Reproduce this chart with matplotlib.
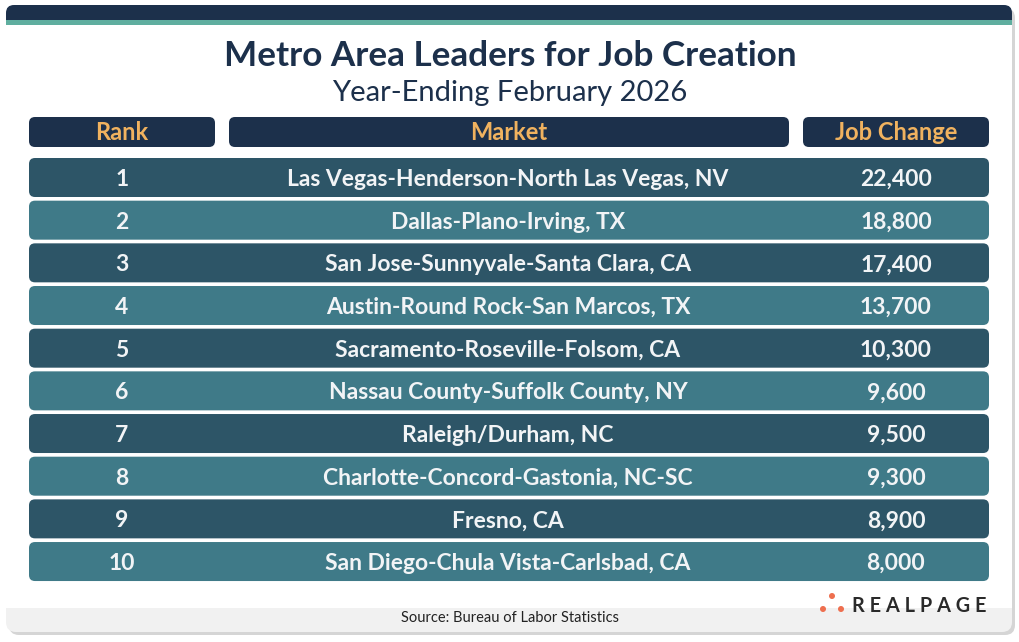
import matplotlib.pyplot as plt
from matplotlib.patches import FancyBboxPatch, Rectangle, Circle

plt.rcParams['font.family'] = ['Lato', 'DejaVu Sans']

ranks = [1, 2, 3, 4, 5, 6, 7, 8, 9, 10]
markets = ["Las Vegas-Henderson-North Las Vegas, NV", "Dallas-Plano-Irving, TX",
           "San Jose-Sunnyvale-Santa Clara, CA", "Austin-Round Rock-San Marcos, TX",
           "Sacramento-Roseville-Folsom, CA", "Nassau County-Suffolk County, NY",
           "Raleigh/Durham, NC", "Charlotte-Concord-Gastonia, NC-SC",
           "Fresno, CA", "San Diego-Chula Vista-Carlsbad, CA"]
job_change = [22400, 18800, 17400, 13700, 10300, 9600, 9500, 9300, 8900, 8000]

W, H = 1020, 642
fig = plt.figure(figsize=(W / 100, H / 100), dpi=100)
ax = fig.add_axes([0, 0, 1, 1])
ax.set_xlim(0, W)
ax.set_ylim(H, 0)
ax.axis('off')

navy = '#1c304b'
dark = '#2d5567'
light = '#3f7a88'
orange = '#f0b25f'

def rbox(x0, y0, x1, y1, color, r=6, z=2):
    ax.add_patch(FancyBboxPatch((x0 + r, y0 + r), x1 - x0 - 2 * r, y1 - y0 - 2 * r,
                                boxstyle=f"round,pad={r}", fc=color, ec='none', zorder=z))

# card with shadow and grey footer
rbox(9, 8, 1015, 635, '#d5d5d5', r=10, z=0)
rbox(6, 5, 1012, 632, '#f1f1f1', r=10, z=1)
ax.add_patch(Rectangle((6, 15), 1006, 593, fc='white', ec='none', zorder=1.5))
rbox(6, 5, 1012, 24, navy, r=8, z=2)
ax.add_patch(Rectangle((6, 14), 1006, 6, fc=navy, ec='none', zorder=2))
ax.add_patch(Rectangle((6, 20), 1006, 5, fc='#5fae9f', ec='none', zorder=3))

ax.text(510, 56, "Metro Area Leaders for Job Creation", ha='center', va='center',
        fontsize=25.3, fontweight='bold', color=navy)
ax.text(510, 93, "Year-Ending February 2026", ha='center', va='center',
        fontsize=21, color=navy)

headers = [("Rank", 29, 215), ("Market", 229, 789), ("Job Change", 803, 989)]
for label, x0, x1 in headers:
    rbox(x0, 117, x1, 147, navy, r=6)
    ax.text((x0 + x1) / 2, 132, label, ha='center', va='center',
            fontsize=17, fontweight='bold', color=orange, zorder=3)

pitch = 42.67
for i, (rk, mk, jc) in enumerate(zip(ranks, markets, job_change)):
    y0 = 158 + i * pitch
    y1 = y0 + 39
    rbox(29, y0, 989, y1, dark if i % 2 == 0 else light, r=6)
    yc = (y0 + y1) / 2 + 2
    kw = dict(ha='center', va='center', fontsize=16.5, fontweight='bold',
              color='#f2f4f6', zorder=3)
    ax.text(122, yc, str(rk), **kw)
    ax.text(508, yc, mk, **kw)
    ax.text(896, yc, f"{jc:,}", **kw)

ax.text(510, 618, "Source: Bureau of Labor Statistics", ha='center', va='center',
        fontsize=10.5, color='#222222', zorder=3)

# logo
for cx, cy in [(832, 596), (823, 609), (841, 609)]:
    ax.add_patch(Circle((cx, cy), 3, fc='#ee6f4f', ec='none', zorder=3))
ax.text(852, 606, "R E A L P A G E", ha='left', va='center', fontsize=14.3,
        fontweight='bold', color='#2a2a2a', zorder=3)

fig.savefig('out.png', dpi=100)
